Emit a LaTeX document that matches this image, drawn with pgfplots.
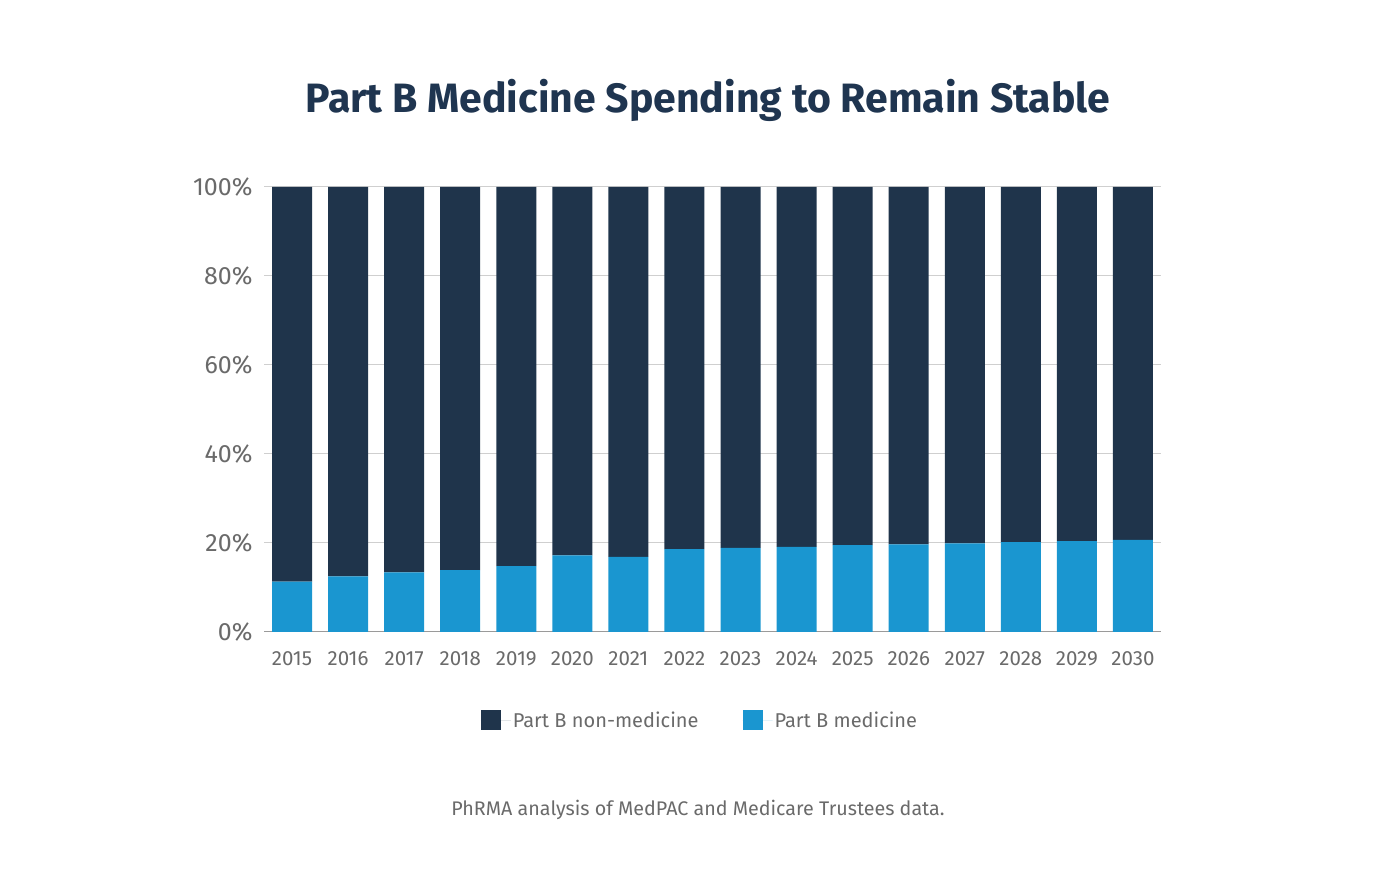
\documentclass[border=0pt]{standalone}
\usepackage{pgfplots}
\pgfplotsset{compat=1.18}
\usepackage{fontspec}
\setmainfont{Fira Sans}
\definecolor{navy}{HTML}{1F344B}
\definecolor{mblue}{HTML}{1A96D0}
\definecolor{txtgray}{HTML}{6A6A6A}
\definecolor{titlecol}{HTML}{1F3550}
\definecolor{gridgray}{HTML}{CFCFCF}
\definecolor{axgray}{HTML}{9A9A9A}
\begin{document}
\begin{tikzpicture}[x=1pt,y=1pt]
\path (0,0) rectangle (1388,874);
\begin{axis}[
  at={(264pt,242pt)}, anchor=south west,
  scale only axis, width=897pt, height=445pt,
  xmin=-0.5, xmax=15.5, ymin=0, ymax=100,
  ybar stacked, bar width=40pt,
  axis line style={draw=none},
  major tick length=0pt,
  xtick={0,...,15},
  xticklabels={2015,2016,2017,2018,2019,2020,2021,2022,2023,2024,2025,2026,2027,2028,2029,2030},
  ytick={0,20,40,60,80,100},
  yticklabels={0\%,20\%,40\%,60\%,80\%,100\%},
  yticklabel style={font=\fontsize{25}{28}\selectfont, text=txtgray, anchor=east, xshift=-8pt},
  xticklabel style={font=\fontsize{20.5}{24}\selectfont, text=txtgray, anchor=north, yshift=-16pt},
  ymajorgrids, grid style={gridgray, line width=1pt},
  legend columns=2,
  legend style={at={(0.486,-0.198)}, anchor=center, draw=none, fill=none,
    font=\fontsize{20}{24}\selectfont, text=txtgray,
    /tikz/every even column/.append style={column sep=42pt}},
  legend image code/.code={\path (0pt,0pt) -- (30pt,0pt); \fill[#1] (0pt,-10pt) rectangle (20pt,10pt);},
  legend cell align=left,
]
\addlegendimage{fill=navy, draw=none}
\addlegendimage{fill=mblue, draw=none}
\addplot[fill=mblue, draw=none] coordinates {
(0,11.3) (1,12.5) (2,13.4) (3,13.9) (4,14.8) (5,17.2) (6,16.9) (7,18.6)
(8,18.9) (9,19.1) (10,19.5) (11,19.7) (12,19.9) (13,20.2) (14,20.4) (15,20.7)};
\addplot[fill=navy, draw=none] coordinates {
(0,88.7) (1,87.5) (2,86.6) (3,86.1) (4,85.2) (5,82.8) (6,83.1) (7,81.4)
(8,81.1) (9,80.9) (10,80.5) (11,80.3) (12,80.1) (13,79.8) (14,79.6) (15,79.3)};
\legend{Part B non-medicine, Part B medicine}
\draw[axgray, line width=1.5pt] (axis cs:-0.5,0) -- (axis cs:15.5,0);
\end{axis}
\node[font=\fontsize{41}{46}\selectfont\bfseries, text=titlecol, anchor=base] at (708,761) {Part B Medicine Spending to Remain Stable};
\node[font=\fontsize{19.7}{23}\selectfont, text=txtgray, anchor=base] at (698,58) {PhRMA analysis of MedPAC and Medicare Trustees data.};
\end{tikzpicture}
\end{document}
